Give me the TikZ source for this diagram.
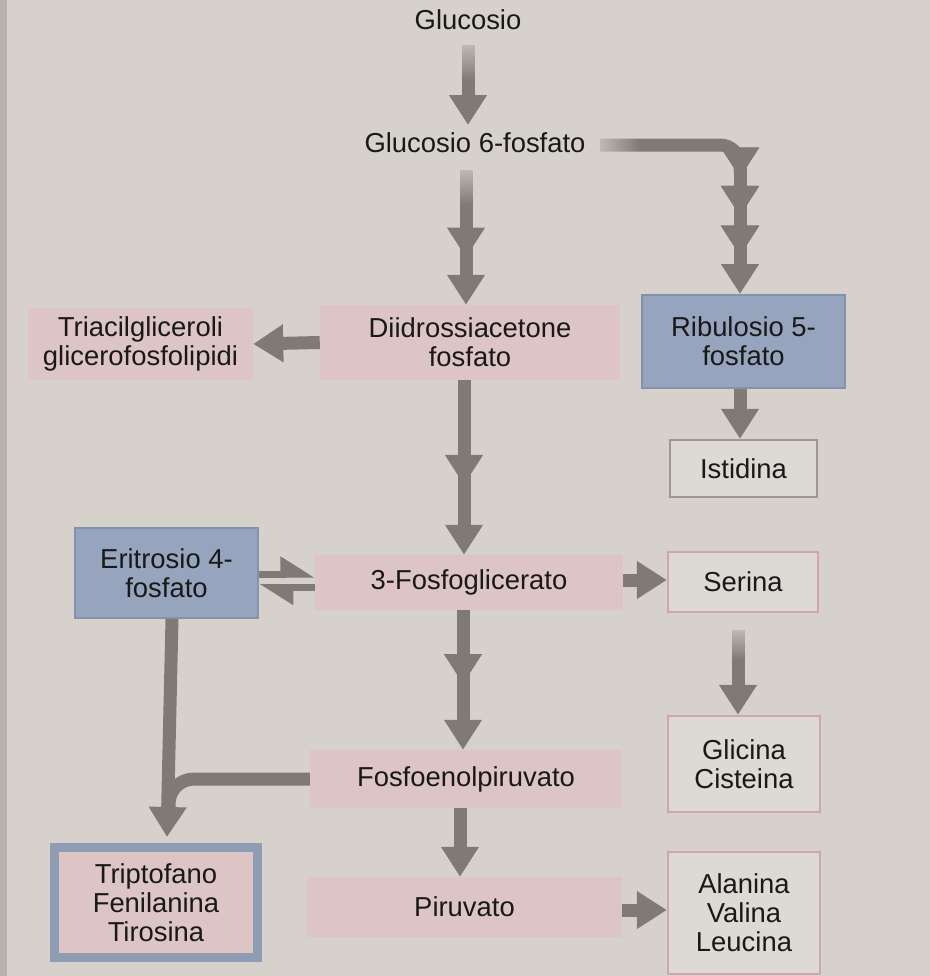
\documentclass[tikz,border=0pt]{standalone}
\usepackage{fontspec}
\setmainfont{Liberation Sans}
\usetikzlibrary{arrows.meta,calc,decorations.markings,fadings}
\definecolor{bgc}{RGB}{214,210,203}
\definecolor{pinkf}{RGB}{221,196,197}
\definecolor{bluef}{RGB}{150,164,190}
\definecolor{blueb}{RGB}{132,146,174}
\definecolor{arrowg}{RGB}{128,122,116}
\definecolor{pinkb}{RGB}{210,165,172}
\definecolor{outf}{RGB}{221,217,211}
\definecolor{istb}{RGB}{160,148,150}
\tikzset{
  lbl/.style={font=\fontsize{23.4}{24.7}\selectfont, align=center, text=black!90, inner sep=0pt},
  pinkbox/.style={lbl, fill=pinkf, draw=none},
  bluebox/.style={lbl, fill=bluef, draw=blueb, line width=0.06cm},
  outbox/.style={lbl, fill=outf, draw=pinkb, line width=0.07cm},
  tip/.style={-{Triangle[width=1.08cm,length=0.9cm]}},
  shaft/.style={draw=arrowg, color=arrowg, line width=0.39cm},
  flow/.style={shaft, tip},
  extratip/.style={postaction={decorate}, decoration={markings, mark=at position #1 with {\arrow{Triangle[width=1.08cm,length=0.9cm]}}}},
  harp/.style={draw=arrowg, line width=0.21cm, -{Triangle[harpoon,width=1.0cm,length=0.85cm]}},
  fadedown/.style={fill=bgc, path fading=south, fill opacity=0.75},
  faderight/.style={fill=bgc, path fading=east, fill opacity=0.75}
}
\begin{document}
\begin{tikzpicture}[x=0.03cm,y=-0.03cm]
\fill[bgc] (0,0) rectangle (930,976);
\fill[bgc!85!black] (0,0) rectangle (7,976);
\useasboundingbox (0,0) rectangle (930,976);

% nodes
\node[lbl] (glc) at (468,20) {Glucosio};
\node[lbl] (g6p) at (475,143) {Glucosio 6-fosfato};
\node[pinkbox, minimum width=225*0.03cm, minimum height=72*0.03cm] (tri) at (140.5,344) {Triacilgliceroli\\glicerofosfolipidi};
\node[pinkbox, minimum width=300*0.03cm, minimum height=75*0.03cm] (dhap) at (470,342.5) {Diidrossiacetone\\fosfato};
\node[bluebox, minimum width=203*0.03cm, minimum height=93*0.03cm] (rib) at (743.5,341.5) {Ribulosio 5-\\fosfato};
\node[outbox, draw=istb, minimum width=147*0.03cm, minimum height=57*0.03cm] (ist) at (743.5,468.5) {Istidina};
\node[bluebox, minimum width=183*0.03cm, minimum height=90*0.03cm] (ery) at (166.5,573) {Eritrosio 4-\\fosfato};
\node[pinkbox, minimum width=308*0.03cm, minimum height=55*0.03cm] (pg3) at (469,582.5) {3-Fosfoglicerato};
\node[outbox, minimum width=150*0.03cm, minimum height=60*0.03cm] (ser) at (743,582) {Serina};
\node[outbox, minimum width=152*0.03cm, minimum height=96*0.03cm] (gly) at (744,764) {Glicina\\Cisteina};
\node[pinkbox, minimum width=312*0.03cm, minimum height=58*0.03cm] (pep) at (466,779) {Fosfoenolpiruvato};
\node[pinkbox, draw=bluef!95!black, line width=0.27cm, minimum width=203*0.03cm, minimum height=110*0.03cm] (trp) at (156,902.5) {Triptofano\\Fenilanina\\Tirosina};
\node[pinkbox, minimum width=315*0.03cm, minimum height=60*0.03cm] (pyr) at (464.5,907) {Piruvato};
\node[outbox, minimum width=152*0.03cm, minimum height=122*0.03cm] (ala) at (744,913) {Alanina\\Valina\\Leucina};

% connectors
\coordinate (glcS) at (468,45);
\coordinate (g6pN) at (468,125);
\draw[flow] (glcS) -- (g6pN);
\fill[fadedown] (458,44) rectangle (478,80);

\coordinate (g6pS) at (466,170);
\draw[flow, extratip=0.65] (g6pS) -- (dhap.north -| g6pS);
\fill[fadedown] (456,169) rectangle (476,205);

\coordinate (g6pE) at (600,145);
\coordinate (corner) at (740,145);
\coordinate (bend) at (740,172);
\draw[shaft, rounded corners=0.6cm] (g6pE) -- (corner) -- (bend);
\fill[faderight] (599,135) rectangle (640,155);
\draw[flow, extratip=0.18, extratip=0.45, extratip=0.73] (740,152) -- (rib.north -| bend);

\draw[flow] (dhap.west) -- (tri.east);
\draw[flow, extratip=0.6] (dhap.south -| 464,0) -- (pg3.north -| 464,0);
\draw[flow] (rib.south -| 740,0) -- (ist.north -| 740,0);
\draw[harp] ($(ery.east)+(0,1)$) -- ($(pg3.west)+(0,-8.5)$);
\draw[harp] ($(pg3.west)+(0,5)$) -- ($(ery.east)+(0,14.5)$);
\draw[flow] (pg3.east |- 0,580) -- (ser.west |- 0,580);
\draw[flow, extratip=0.53] (pg3.south -| 463,0) -- (pep.north -| 463,0);
\coordinate (serS) at (738,630);
\draw[flow] (serS) -- (gly.north -| serS);
\fill[fadedown] (728,629) rectangle (748,660);
\coordinate (trpTop) at (169,843);
\draw[flow] (ery.south -| 172,0) -- ($(trpTop)+(-2,-6)$);
\draw[shaft, rounded corners=0.75cm] (pep.west) -| (169,812);
\draw[flow] (pep.south -| 460,0) -- (pyr.north -| 460,0);
\draw[flow] (pyr.east |- 0,910) -- (ala.west |- 0,910);
\end{tikzpicture}
\end{document}
